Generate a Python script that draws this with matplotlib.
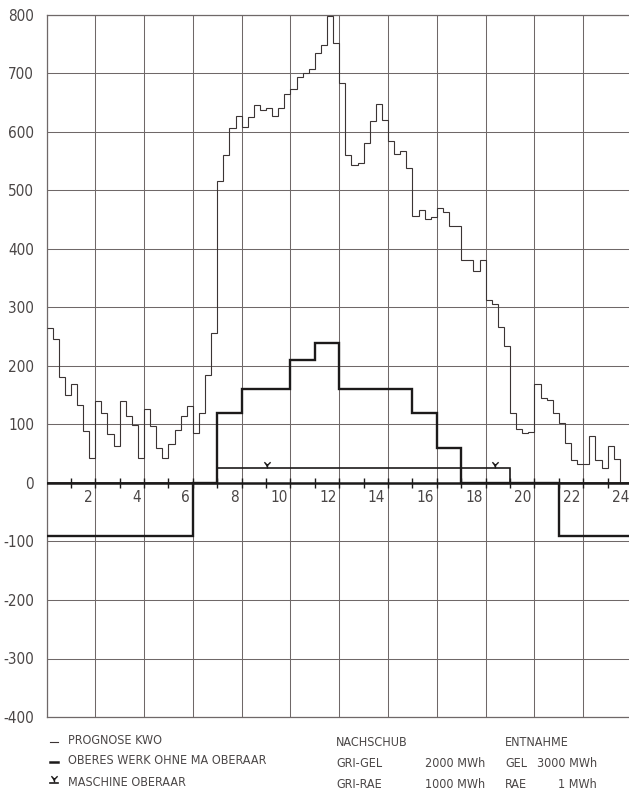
#!/usr/bin/env python3

import matplotlib

matplotlib.use("Agg")
import matplotlib.pyplot as plt
import numpy as np
from matplotlib import font_manager
from matplotlib.lines import Line2D
from matplotlib.path import Path

# PROGNOSE KWO, quarter-hour values (MW), one row per hour 0..23
prognose_kwo = [
    265, 246, 182, 150,
    169, 133, 89, 43,
    140, 120, 84, 63,
    140, 115, 99, 43,
    126, 97, 59, 42,
    67, 91, 114, 132,
    85, 120, 185, 256,
    517, 560, 607, 627,
    608, 626, 647, 638,
    641, 628, 641, 665,
    674, 694, 700, 708,
    735, 749, 799, 752,
    683, 560, 543, 547,
    581, 619, 648, 621,
    584, 563, 567, 538,
    457, 466, 451, 455,
    470, 464, 439, 439,
    382, 381, 362, 381,
    313, 306, 266, 234,
    120, 93, 85, 87,
    169, 145, 142, 120,
    103, 68, 40, 32,
    32, 81, 40, 25,
    63, 41, 0, 0,
]

# OBERES WERK OHNE MA OBERAAR, hourly values (MW)
oberes_werk = [-90, -90, -90, -90, -90, -90, 0, 120, 160, 160, 210, 240,
               160, 160, 160, 120, 60, 0, 0, 0, 0, -90, -90, -90]

# MASCHINE OBERAAR, hourly values (MW) and where the symbols sit
maschine_oberaar = [0, 0, 0, 0, 0, 0, 0, 25, 25, 25, 25, 25,
                    25, 25, 25, 25, 25, 25, 25, 0, 0, 0, 0, 0]
marker_hours = [9.05, 18.4]

hour_labels = [2, 4, 6, 8, 10, 12, 14, 16, 18, 20, 22, 24]
y_ticks = [800, 700, 600, 500, 400, 300, 200, 100, 0, -100, -200, -300, -400]

legend_labels = ["PROGNOSE KWO", "OBERES WERK OHNE MA OBERAAR", "MASCHINE OBERAAR"]
table_rows = [
    ["NACHSCHUB", "", "ENTNAHME", ""],
    ["GRI-GEL", "2000 MWh", "GEL", "3000 MWh"],
    ["GRI-RAE", "1000 MWh", "RAE", "1 MWh"],
]

W, H = 629, 794

# the plotter lettering is very narrow: use the narrowest face installed
STRETCH_RANK = {"ultra-condensed": 0, "extra-condensed": 1, "condensed": 2,
                "semi-condensed": 3}
narrow = []
for f in font_manager.fontManager.ttflist:
    if f.style != "normal" or f.weight not in (300, 400, "normal", "light", "regular"):
        continue
    rank = STRETCH_RANK.get(f.stretch)
    if rank is None and ("Narrow" in f.name or "Condensed" in f.name):
        rank = 2
    if rank is not None:
        narrow.append((rank, f.fname))
if narrow:
    FP = font_manager.FontProperties(fname=sorted(narrow)[0][1])
    SZ_AX, SZ_LEG = 11, 9
else:
    FP = font_manager.FontProperties(family="DejaVu Sans")
    SZ_AX, SZ_LEG = 9.5, 8
plt.rcParams["axes.unicode_minus"] = False

GRID = "#6f6868"
INK = "#1c1a1a"
THIN = "#3b3434"
TEXT = "#4a4646"

# Y-shaped symbol standing on its line
y_mark = Path([(0, 0), (0, 0.5), (-0.5, 1.0), (0, 0.5), (0.5, 1.0)],
              [Path.MOVETO, Path.LINETO, Path.LINETO, Path.MOVETO, Path.LINETO])


def fx(x):
    return x / W


def fy(y):
    return 1 - y / H


fig = plt.figure(figsize=(W / 100, H / 100), dpi=100)
ax = fig.add_axes([fx(46.5), fy(717), (632 - 46.5) / W, (717 - 15) / H])
ax.set_xlim(0, 24)
ax.set_ylim(-400, 800)

ax.set_xticks(np.arange(0, 25, 2))
ax.set_xticklabels([])
ax.set_yticks(y_ticks)
ax.set_yticklabels([str(v) for v in y_ticks], fontproperties=FP, fontsize=SZ_AX,
                   color=TEXT)
ax.tick_params(length=0, pad=9)
ax.grid(True, color=GRID, lw=0.75)
for side, sp in ax.spines.items():
    sp.set_color(GRID)
    sp.set_linewidth(0.9)
ax.spines["right"].set_visible(False)

# thin quarter-hour forecast
q_edges = np.arange(len(prognose_kwo) + 1) * 0.25
ax.stairs(prognose_kwo, q_edges, baseline=None, color=THIN, lw=0.8, zorder=3)

# zero axis with hour ticks
ax.axhline(0, color=INK, lw=1.8, zorder=4)
ax.plot(np.arange(1, 24), np.zeros(23), ls="none", marker="|", ms=7, mew=1.0,
        color=INK, zorder=4)
for h in hour_labels:
    ax.annotate(str(h), (h, 0), xytext=(-2, -5), textcoords="offset points",
                ha="right", va="top", fontproperties=FP, fontsize=SZ_AX, color=TEXT)

h_edges = np.arange(len(oberes_werk) + 1)
ax.stairs(oberes_werk, h_edges, baseline=None, color=INK, lw=1.7, zorder=5)
ax.stairs(maschine_oberaar, h_edges, baseline=None, color=INK, lw=1.2, zorder=5)
ax.plot(marker_hours, [maschine_oberaar[int(h)] for h in marker_hours],
        ls="none", marker=y_mark, ms=9, mew=1.0, color=INK, zorder=6)

# legend block, bottom left
rows_y = [740.5, 761, 782]
styles = [dict(lw=0.8, color=THIN), dict(lw=1.8, color=INK), dict(lw=1.2, color=INK)]
for y, lab, st in zip(rows_y, legend_labels, styles):
    fig.add_artist(Line2D([fx(50), fx(58)], [fy(y + 1), fy(y + 1)],
                          transform=fig.transFigure, **st))
    fig.text(fx(68), fy(y), lab, fontproperties=FP, fontsize=SZ_LEG, color=TEXT,
             va="center")
fig.add_artist(Line2D([fx(54)], [fy(782)], transform=fig.transFigure,
                      marker=y_mark, ms=9, mew=1.0, color=INK, ls="none"))

# supply / withdrawal table, bottom right
table_y = [742.5, 763.5, 784]
for y, row in zip(table_y, table_rows):
    kw = dict(fontproperties=FP, fontsize=SZ_LEG, color=TEXT, va="center")
    fig.text(fx(336), fy(y), row[0], **kw)
    fig.text(fx(485), fy(y), row[1], ha="right", **kw)
    fig.text(fx(505), fy(y), row[2], **kw)
    fig.text(fx(597), fy(y), row[3], ha="right", **kw)

fig.savefig("out.png", dpi=100, facecolor="white")
plt.close(fig)
